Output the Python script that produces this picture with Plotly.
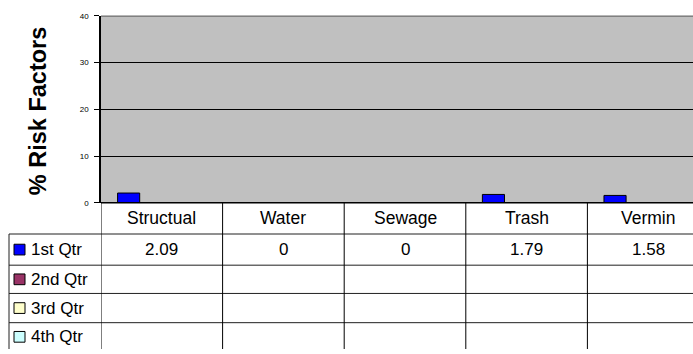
import plotly.graph_objects as go

# ---- data ----
categories = ["Structual", "Water", "Sewage", "Trash", "Vermin"]
series_names = ["1st Qtr", "2nd Qtr", "3rd Qtr", "4th Qtr"]
q1_values = [2.09, 0, 0, 1.79, 1.58]
q2_values = [None, None, None, None, None]
q3_values = [None, None, None, None, None]
q4_values = [None, None, None, None, None]
series_values = [q1_values, q2_values, q3_values, q4_values]
series_colors = ["#0000FF", "#993366", "#FFFFCC", "#CCFFFF"]
y_ticks = [0, 10, 20, 30, 40]
y_title = "% Risk Factors"

# ---- layout helpers (pixel -> paper) ----
W, H = 693, 354
def px(x):
    return x / W
def py(y):
    return 1 - y / H

FONT = "Liberation Sans, Arial, sans-serif"
plot_left, plot_top, plot_bottom = 101, 12, 204
cat_w = 121.6
x_upper = -0.5 + (W - plot_left) / cat_w
row_lines = [236, 268, 297, 327]
row_centers = [252, 282.5, 312, 341.5]
header_center = 220

fig = go.Figure()
xs = list(range(len(categories)))
for name, vals, col in zip(series_names, series_values, series_colors):
    fig.add_trace(go.Bar(
        x=xs, y=vals, name=name, showlegend=False,
        marker=dict(color=col, line=dict(color="black", width=1)),
    ))

shapes = []
line_dark = dict(color="#202020", width=1)
# top border of plot area
shapes.append(dict(type="line", xref="paper", yref="paper", x0=px(plot_left), x1=1,
                   y0=py(plot_top + 0.5), y1=py(plot_top + 0.5), line=dict(color="#808080", width=1.5)))
# table top line (axis baseline)
shapes.append(dict(type="line", xref="paper", yref="paper", x0=px(plot_left), x1=1,
                   y0=py(plot_bottom), y1=py(plot_bottom), line=dict(color="black", width=1.6)))
for ry in row_lines:
    shapes.append(dict(type="line", xref="paper", yref="paper", x0=px(9), x1=1,
                       y0=py(ry), y1=py(ry), line=line_dark))
# legend column left border
shapes.append(dict(type="line", xref="paper", yref="paper", x0=px(9), x1=px(9),
                   y0=py(row_lines[0]), y1=0, line=line_dark))
# column separators
for i in range(-1, len(categories) - 1):
    shapes.append(dict(type="line", xref="x", yref="paper", x0=i + 0.5, x1=i + 0.5,
                       y0=py(plot_bottom), y1=0, line=dict(color="black", width=1)))
# legend keys
for rc, col in zip(row_centers, series_colors):
    shapes.append(dict(type="rect", xref="paper", yref="paper", x0=px(14), x1=px(25),
                       y0=py(rc + 5.5), y1=py(rc - 5.5), fillcolor=col,
                       line=dict(color="black", width=1)))

annotations = []
for i, c in enumerate(categories):
    annotations.append(dict(x=i, y=py(header_center), xref="x", yref="paper", text=c,
                            xanchor="center", yanchor="middle", showarrow=False,
                            font=dict(family=FONT, size=17.5, color="black")))
for vals, rc in zip(series_values, row_centers):
    for i, v in enumerate(vals):
        if v is None:
            continue
        annotations.append(dict(x=i, y=py(rc), xref="x", yref="paper", text=f"{v:g}",
                                xanchor="center", yanchor="middle", showarrow=False,
                                font=dict(family=FONT, size=17, color="black")))
for name, rc in zip(series_names, row_centers):
    annotations.append(dict(x=px(29), y=py(rc), xref="paper", yref="paper", text=name,
                            xanchor="left", yanchor="middle", showarrow=False,
                            font=dict(family=FONT, size=17, color="black")))
annotations.append(dict(x=px(38), y=py(110), xref="paper", yref="paper", text="<b>" + y_title + "</b>",
                        textangle=-90, xanchor="center", yanchor="middle", showarrow=False,
                        font=dict(family=FONT, size=23.5, color="black")))

fig.update_layout(
    width=W, height=H,
    margin=dict(l=0, r=0, t=0, b=0),
    paper_bgcolor="white",
    plot_bgcolor="#C0C0C0",
    barmode="group",
    bargap=1.5 / 5.5,
    bargroupgap=0,
    xaxis=dict(domain=[px(plot_left), 1], range=[-0.5, x_upper], showticklabels=False,
               showgrid=False, zeroline=False, showline=False, fixedrange=True),
    yaxis=dict(domain=[py(plot_bottom), py(plot_top)], range=[0, 40], tickvals=y_ticks,
               ticks="outside", ticklen=5, tickcolor="black", ticklabelstandoff=4,
               tickfont=dict(family=FONT, size=8, color="black"),
               showgrid=True, gridcolor="black", gridwidth=1,
               showline=True, linecolor="black", linewidth=1.5, zeroline=False, fixedrange=True),
    shapes=shapes,
    annotations=annotations,
)

fig.write_html("out.html", config={"displayModeBar": False},
               post_script="document.body.style.margin='0';")
